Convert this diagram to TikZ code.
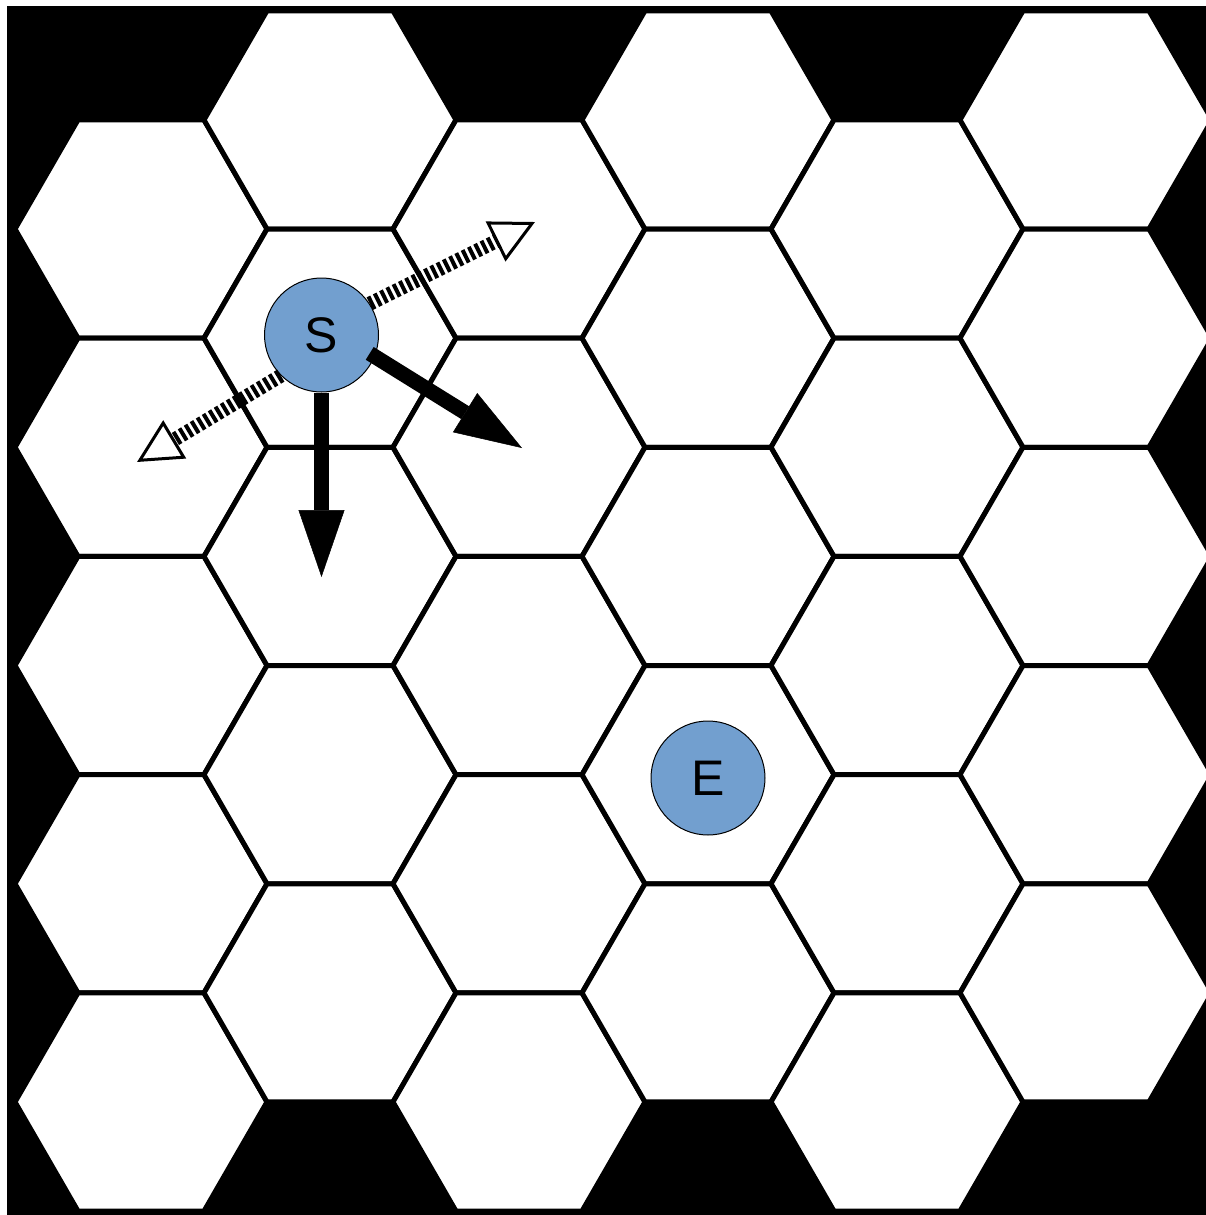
\documentclass[tikz,border=0pt]{standalone}
\usepackage{fontspec}
\setmainfont{Liberation Sans}
\usetikzlibrary{arrows.meta}
\definecolor{agentblue}{HTML}{729FCF}
\tikzset{
  hexcell/.style={fill=white, draw=black, line width=5pt, line join=miter},
  agent/.style={circle, fill=agentblue, draw=black, line width=1pt, minimum size=114pt, inner sep=0pt, font=\fontsize{50}{60}\selectfont},
  bigarrow/.style={line width=15pt, -{Triangle[length=67pt,width=46pt,line width=0.5pt]}},
  hatcharrow/.style={line width=14pt, dash pattern=on 4pt off 3pt, -{Triangle[open,length=44pt,width=44pt,line width=3pt]}},
}
\begin{document}
\begin{tikzpicture}[x=1pt,y=-1pt]
\useasboundingbox (0,0) rectangle (1206,1215);
\fill[white] (0,0) rectangle (1206,1215);
\fill[black] (7,6) rectangle (1206,1215);
\foreach \i in {0,...,5}{
  \foreach \k in {0,...,4}{
    \pgfmathsetmacro{\cx}{141+189*\i}
    \pgfmathsetmacro{\cy}{119.9+109.1*(1-mod(\i,2))+218.24*\k}
    \draw[hexcell, shift={(\cx,\cy)}] (126,0) -- (63,109.12) -- (-63,109.12) -- (-126,0) -- (-63,-109.12) -- (63,-109.12) -- cycle;
  }
}
\node[agent] (S) at (321.5,335) {S};
\node[agent] (E) at (708,778) {E};
\coordinate (dn) at (321.5,577);
\coordinate (dr) at (522,448);
\coordinate (tu) at (535,222);
\coordinate (tl) at (137,462);
\draw[hatcharrow] (S.33) -- (tu);
\draw[hatcharrow] (S.225) -- (tl);
\draw[bigarrow] (S.south) -- (dn);
\draw[bigarrow, shorten <=-6pt] (S.-22) -- (dr);
\end{tikzpicture}
\end{document}
